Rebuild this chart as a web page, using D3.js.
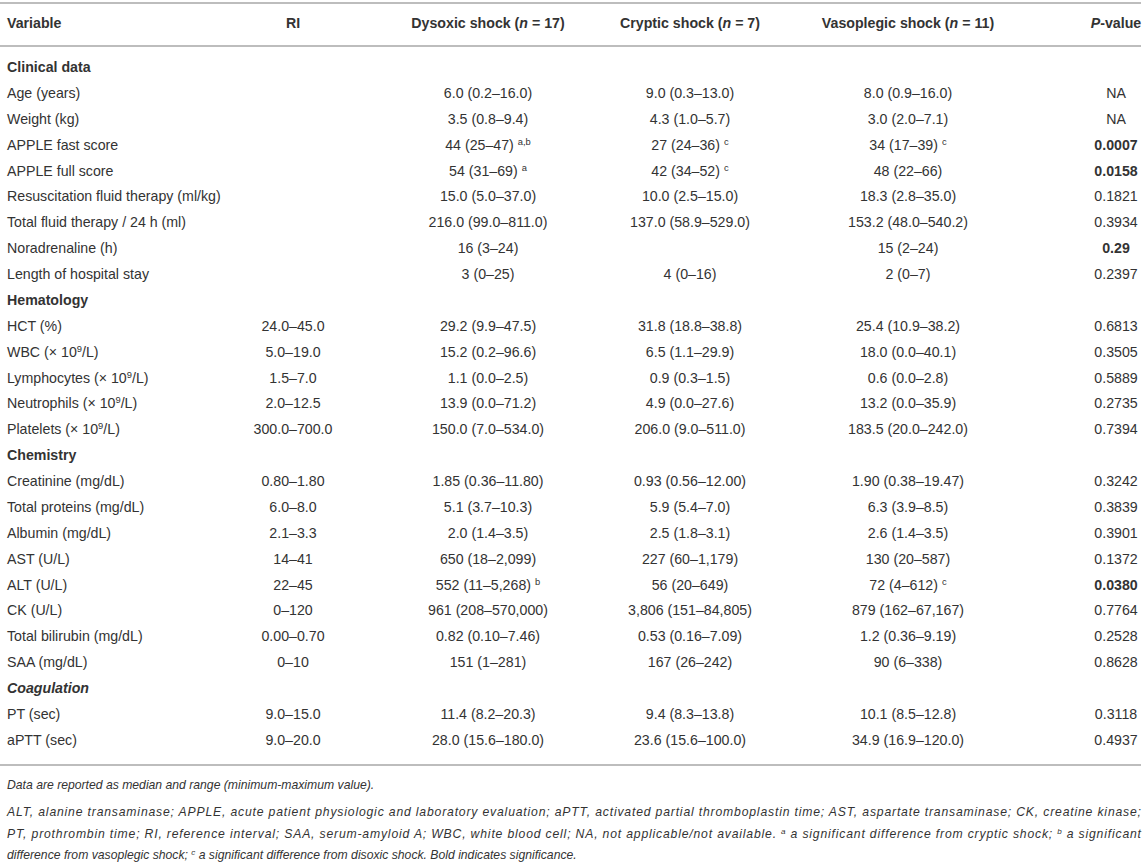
<!DOCTYPE html>
<html>
<head>
<meta charset="utf-8">
<script src="https://cdnjs.cloudflare.com/ajax/libs/d3/7.8.5/d3.min.js"></script>
<style>
  body { margin: 0; background: #fff; }
  svg text { font-family: "Liberation Sans", Arial, Helvetica, sans-serif; fill: #333; }
</style>
</head>
<body>
<div id="my_table"></div>
<script>
// header of the table
const headers = ["Variable", "RI", "Dysoxic shock (*n* = 17)", "Cryptic shock (*n* = 7)", "Vasoplegic shock (*n* = 11)", "*P*-value"];

// rows: section titles marked with {sec} or {seci} (italic)
const variables = [
  "{sec}Clinical data",
  "Age (years)", "Weight (kg)", "APPLE fast score", "APPLE full score",
  "Resuscitation fluid therapy (ml/kg)", "Total fluid therapy / 24 h (ml)",
  "Noradrenaline (h)", "Length of hospital stay",
  "{sec}Hematology",
  "HCT (%)", "WBC (× 10^9^/L)", "Lymphocytes (× 10^9^/L)", "Neutrophils (× 10^9^/L)", "Platelets (× 10^9^/L)",
  "{sec}Chemistry",
  "Creatinine (mg/dL)", "Total proteins (mg/dL)", "Albumin (mg/dL)", "AST (U/L)", "ALT (U/L)",
  "CK (U/L)", "Total bilirubin (mg/dL)", "SAA (mg/dL)",
  "{seci}Coagulation",
  "PT (sec)", "aPTT (sec)"
];
const riValues = [
  "", "", "", "", "", "", "", "", "",
  "", "24.0–45.0", "5.0–19.0", "1.5–7.0", "2.0–12.5", "300.0–700.0",
  "", "0.80–1.80", "6.0–8.0", "2.1–3.3", "14–41", "22–45", "0–120", "0.00–0.70", "0–10",
  "", "9.0–15.0", "9.0–20.0"
];
const dysoxic = [
  "", "6.0 (0.2–16.0)", "3.5 (0.8–9.4)", "44 (25–47) ^a,b^", "54 (31–69) ^a^",
  "15.0 (5.0–37.0)", "216.0 (99.0–811.0)", "16 (3–24)", "3 (0–25)",
  "", "29.2 (9.9–47.5)", "15.2 (0.2–96.6)", "1.1 (0.0–2.5)", "13.9 (0.0–71.2)", "150.0 (7.0–534.0)",
  "", "1.85 (0.36–11.80)", "5.1 (3.7–10.3)", "2.0 (1.4–3.5)", "650 (18–2,099)", "552 (11–5,268) ^b^",
  "961 (208–570,000)", "0.82 (0.10–7.46)", "151 (1–281)",
  "", "11.4 (8.2–20.3)", "28.0 (15.6–180.0)"
];
const cryptic = [
  "", "9.0 (0.3–13.0)", "4.3 (1.0–5.7)", "27 (24–36) ^c^", "42 (34–52) ^c^",
  "10.0 (2.5–15.0)", "137.0 (58.9–529.0)", "", "4 (0–16)",
  "", "31.8 (18.8–38.8)", "6.5 (1.1–29.9)", "0.9 (0.3–1.5)", "4.9 (0.0–27.6)", "206.0 (9.0–511.0)",
  "", "0.93 (0.56–12.00)", "5.9 (5.4–7.0)", "2.5 (1.8–3.1)", "227 (60–1,179)", "56 (20–649)",
  "3,806 (151–84,805)", "0.53 (0.16–7.09)", "167 (26–242)",
  "", "9.4 (8.3–13.8)", "23.6 (15.6–100.0)"
];
const vasoplegic = [
  "", "8.0 (0.9–16.0)", "3.0 (2.0–7.1)", "34 (17–39) ^c^", "48 (22–66)",
  "18.3 (2.8–35.0)", "153.2 (48.0–540.2)", "15 (2–24)", "2 (0–7)",
  "", "25.4 (10.9–38.2)", "18.0 (0.0–40.1)", "0.6 (0.0–2.8)", "13.2 (0.0–35.9)", "183.5 (20.0–242.0)",
  "", "1.90 (0.38–19.47)", "6.3 (3.9–8.5)", "2.6 (1.4–3.5)", "130 (20–587)", "72 (4–612) ^c^",
  "879 (162–67,167)", "1.2 (0.36–9.19)", "90 (6–338)",
  "", "10.1 (8.5–12.8)", "34.9 (16.9–120.0)"
];
// bold p-values are marked with **
const pValues = [
  "", "NA", "NA", "**0.0007**", "**0.0158**", "0.1821", "0.3934", "**0.29**", "0.2397",
  "", "0.6813", "0.3505", "0.5889", "0.2735", "0.7394",
  "", "0.3242", "0.3839", "0.3901", "0.1372", "**0.0380**", "0.7764", "0.2528", "0.8628",
  "", "0.3118", "0.4937"
];

// footnote lines (second item = justify the line)
const footnotes = [
  ["Data are reported as median and range (minimum-maximum value).", false],
  ["ALT, alanine transaminase; APPLE, acute patient physiologic and laboratory evaluation; aPTT, activated partial thromboplastin time; AST, aspartate transaminase; CK, creatine kinase;", true],
  ["PT, prothrombin time; RI, reference interval; SAA, serum-amyloid A; WBC, white blood cell; NA, not applicable/not available. ^a^ a significant difference from cryptic shock; ^b^ a significant", true],
  ["difference from vasoplegic shock; ^c^ a significant difference from disoxic shock. Bold indicates significance.", false]
];

const width = 1144, height = 862;
const fontSize = 14.2;
const right = 1141;

const svg = d3.select("#my_table")
  .append("svg")
  .attr("width", width)
  .attr("height", height);

// column positions
const colX = d3.scaleOrdinal()
  .domain(d3.range(6))
  .range([7, 293, 488, 690, 908, 1116]);
const colAnchor = ["start", "middle", "middle", "middle", "middle", "middle"];

// row positions
const y = d3.scaleLinear()
  .domain([0, variables.length - 1])
  .range([72, 72 + 25.88 * (variables.length - 1)]);

// split a string into pieces: ^sup^, *italic*, **bold**
function addRich(sel, str, baseStyle, size) {
  const parts = str.split(/(\^[^^]*\^|\*\*[^*]*\*\*|\*[^*]*\*)/).filter(p => p !== "");
  parts.forEach(p => {
    const t = sel.append("tspan");
    if (baseStyle.italic) t.attr("font-style", "italic");
    if (baseStyle.bold) t.attr("font-weight", "bold");
    if (p.startsWith("^")) {
      t.text(p.slice(1, -1))
        .attr("font-size", size * 0.66)
        .attr("baseline-shift", "super");
    } else if (p.startsWith("**")) {
      t.text(p.slice(2, -2)).attr("font-weight", "bold");
    } else if (p.startsWith("*")) {
      t.text(p.slice(1, -1)).attr("font-style", "italic");
    } else {
      t.text(p);
    }
  });
}

// rules
const rules = [3, 46, 765];
svg.selectAll(".rule")
  .data(rules)
  .join("line")
  .attr("class", "rule")
  .attr("x1", 0).attr("x2", right)
  .attr("y1", d => d).attr("y2", d => d)
  .attr("stroke", "#bdbdbd")
  .attr("stroke-width", 2);

// header
svg.selectAll(".hdr")
  .data(headers)
  .join("text")
  .attr("class", "hdr")
  .attr("x", (d, i) => colX(i))
  .attr("y", 28)
  .attr("text-anchor", (d, i) => colAnchor[i])
  .attr("font-size", fontSize)
  .attr("font-weight", "bold")
  .each(function(d) { addRich(d3.select(this), d, { bold: true }, fontSize); });

// body
const columns = [variables, riValues, dysoxic, cryptic, vasoplegic, pValues];
columns.forEach((col, ci) => {
  svg.selectAll(".c" + ci)
    .data(col)
    .join("text")
    .attr("class", "c" + ci)
    .attr("x", colX(ci))
    .attr("y", (d, i) => y(i))
    .attr("text-anchor", colAnchor[ci])
    .attr("font-size", fontSize)
    .each(function(d) {
      if (d.startsWith("{sec}")) {
        addRich(d3.select(this), d.slice(5), { bold: true }, fontSize);
      } else if (d.startsWith("{seci}")) {
        addRich(d3.select(this), d.slice(6), { bold: true, italic: true }, fontSize);
      } else {
        addRich(d3.select(this), d, {}, fontSize);
      }
    });
});

// footnotes
const footSize = 12.2;
const footY = [789, 816, 838, 859];
svg.selectAll(".foot")
  .data(footnotes)
  .join("text")
  .attr("class", "foot")
  .attr("x", 7)
  .attr("y", (d, i) => footY[i])
  .attr("font-size", footSize)
  .attr("font-style", "italic")
  .each(function(d) {
    const t = d3.select(this);
    addRich(t, d[0], { italic: true }, footSize);
    if (d[1]) t.attr("textLength", right - 7).attr("lengthAdjust", "spacing");
  });
</script>
</body>
</html>
